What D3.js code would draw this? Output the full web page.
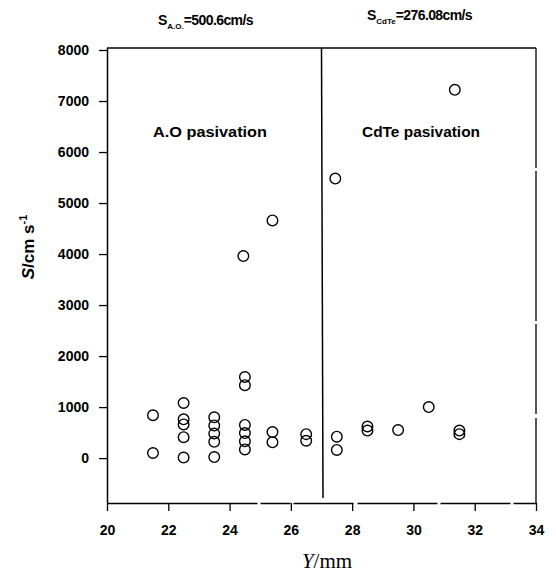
<!DOCTYPE html>
<html>
<head>
<meta charset="utf-8">
<script src="https://cdn.jsdelivr.net/npm/d3@7"></script>
<style>
    body { margin: 0; background: #fff; }
    svg { display: block; }
</style>
</head>
<body>
<svg id="chart" width="556" height="574"></svg>
<script>
/* Y (mm) of each sample */
var yPositions = [21.5, 21.5,
                  22.5, 22.5, 22.5, 22.5, 22.5,
                  23.5, 23.5, 23.5, 23.5, 23.5,
                  24.45, 24.5, 24.5, 24.5, 24.5, 24.5, 24.5,
                  25.4, 25.4, 25.4,
                  26.5, 26.5,
                  27.45, 27.5, 27.5,
                  28.5, 28.5,
                  29.5,
                  30.5,
                  31.35, 31.5, 31.5];
/* Surface recombination velocity S (cm/s) */
var sValues = [840, 100,
               1080, 760, 660, 410, 10,
               800, 640, 480, 320, 20,
               3960, 1590, 1430, 650, 490, 330, 170,
               4660, 510, 310,
               470, 340,
               5480, 420, 160,
               620, 540,
               550,
               1000,
               7220, 540, 470];
var xTicks = [20, 22, 24, 26, 28, 30, 32, 34];
var yTicks = [0, 1000, 2000, 3000, 4000, 5000, 6000, 7000, 8000];
var dividerY = 27;

function Draw() {
    var svg = d3.select("#chart");

    var plot = {left: 107, right: 536, top: 48, bottom: 503};

    var xScale = d3.scaleLinear().domain([20, 34]).range([plot.left, plot.right]);
    var yScale = d3.scaleLinear().domain([-880, 8000]).range([plot.bottom, 50]);

    // Frame
    svg.append("line")
       .attr("x1", plot.left).attr("x2", plot.right)
       .attr("y1", plot.top).attr("y2", plot.top)
       .attr("stroke", "#000").attr("stroke-width", 1.3);
    svg.append("line")
       .attr("x1", plot.right).attr("x2", plot.right)
       .attr("y1", plot.top).attr("y2", plot.bottom)
       .attr("stroke", "#000").attr("stroke-width", 1.3)
       .attr("stroke-dasharray", "120,3,150,3,90,4,200");

    // Divider between the two passivation types
    svg.append("line")
       .attr("x1", xScale(dividerY)).attr("x2", xScale(dividerY) + 1.5)
       .attr("y1", plot.top).attr("y2", plot.bottom - 5)
       .attr("stroke", "#000").attr("stroke-width", 1.5);

    // Axes
    var xAxis = svg.append("g")
       .attr("transform", "translate(0," + plot.bottom + ")")
       .call(d3.axisBottom(xScale).tickValues(xTicks).tickSize(8).tickPadding(14).tickSizeOuter(0));
    var yAxis = svg.append("g")
       .attr("transform", "translate(" + plot.left + ",0)")
       .call(d3.axisLeft(yScale).tickValues(yTicks).tickFormat(d3.format("d"))
                .tickSize(8).tickPadding(10).tickSizeOuter(0));

    [xAxis, yAxis].forEach(function(a) {
        a.select(".domain").attr("stroke-width", 1.5);
        a.selectAll(".tick line").attr("stroke-width", 1.3);
        a.selectAll(".tick text")
         .style("font-family", "Arial, 'Liberation Sans', sans-serif")
         .style("font-size", "14px")
         .style("font-weight", "bold")
         .attr("fill", "#000");
    });
    yAxis.select(".domain").attr("d", "M0.5," + plot.top + "V" + plot.bottom);
    xAxis.select(".domain").attr("stroke-dasharray", "150,3,30,3,60,4,80,3,70,3,200");

    // Points
    svg.append("g")
       .selectAll("circle").data(sValues).enter()
         .append("circle")
         .attr("cx", function(d, i) { return xScale(yPositions[i]); })
         .attr("cy", function(d) { return yScale(d); })
         .attr("r", 5.3)
         .attr("fill", "none")
         .attr("stroke", "#000")
         .attr("stroke-width", 1.4);

    var sans = "Arial, 'Liberation Sans', sans-serif";

    // Region labels
    svg.append("text")
       .attr("x", 153).attr("y", 137)
       .attr("textLength", 114).attr("lengthAdjust", "spacingAndGlyphs")
       .style("font-family", sans).style("font-size", "14px").style("font-weight", "bold")
       .text("A.O pasivation");
    svg.append("text")
       .attr("x", 362).attr("y", 137)
       .attr("textLength", 118).attr("lengthAdjust", "spacingAndGlyphs")
       .style("font-family", sans).style("font-size", "14px").style("font-weight", "bold")
       .text("CdTe pasivation");

    // Average values above the plot
    var left = svg.append("text")
       .attr("x", 158).attr("y", 25)
       .style("font-family", sans).style("font-size", "14px").style("font-weight", "bold");
    left.append("tspan").text("S");
    left.append("tspan").attr("dy", 4).style("font-size", "8px").text("A.O.");
    left.append("tspan").attr("dy", -4).attr("letter-spacing", "-0.6").text("=500.6cm/s");

    var right = svg.append("text")
       .attr("x", 367).attr("y", 20)
       .style("font-family", sans).style("font-size", "14px").style("font-weight", "bold");
    right.append("tspan").text("S");
    right.append("tspan").attr("dy", 4).style("font-size", "8px").text("CdTe");
    right.append("tspan").attr("dy", -4).attr("letter-spacing", "-0.6").text("=276.08cm/s");

    // Axis titles
    var yLabel = svg.append("text")
       .attr("transform", "translate(34,247) rotate(-90)")
       .attr("text-anchor", "middle")
       .style("font-family", sans).style("font-size", "17px").style("font-weight", "bold");
    yLabel.append("tspan").style("font-style", "italic").text("S");
    yLabel.append("tspan").text("/cm s");
    yLabel.append("tspan").attr("dy", -7).style("font-size", "11px").text("-1");

    var xLabel = svg.append("text")
       .attr("x", 327).attr("y", 568)
       .attr("text-anchor", "middle")
       .style("font-family", "'Liberation Serif', 'DejaVu Serif', serif").style("font-size", "21px");
    xLabel.append("tspan").style("font-style", "italic").text("Y");
    xLabel.append("tspan").text("/mm");
}

Draw();
</script>
</body>
</html>
